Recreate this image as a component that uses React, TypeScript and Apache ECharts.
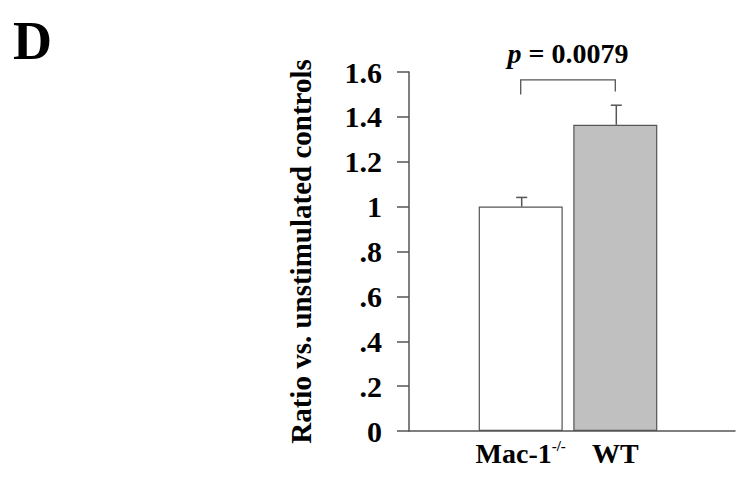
import React, { useEffect, useRef } from "react";
import * as echarts from "echarts";

const categories = ["Mac-1", "WT"];
const means = [1.0, 1.365];
const errorTops = [1.041, 1.452];
const barColors = ["#ffffff", "#c0c0c0"];
const bracket = { from: 0, to: 1, y: 1.565, legBottom: 1.5, label: "0.0079" };
const yMin = 0;
const yMax = 1.6;
const yInterval = 0.2;

const SERIF = "'Liberation Serif', 'Times New Roman', 'DejaVu Serif', serif";
const LINE = "#555555";

export default function App() {
  const ref = useRef<HTMLDivElement>(null);
  useEffect(() => {
    if (!ref.current) return;
    const chart = echarts.init(ref.current, null, { renderer: "svg" });
    const fmt = (v: number) => {
      if (v === 0) return "0";
      if (Math.abs(v - 1) < 1e-9) return "1";
      if (v < 1) return v.toFixed(1).slice(1);
      return v.toFixed(1);
    };
    chart.setOption({
      animation: false,
      backgroundColor: "#ffffff",
      graphic: [
        {
          type: "text",
          left: 5,
          top: 6,
          style: { text: "D", font: `bold 54px ${SERIF}`, fill: "#000" },
        },
      ],
      grid: [
        { left: 401, right: 23, top: 64, bottom: 60 },
        { left: 465.4, width: 189.2, top: 64, bottom: 60 },
      ],
      xAxis: [
        {
          gridIndex: 0,
          type: "value",
          min: 0,
          max: 1,
          axisLine: { show: true, lineStyle: { color: LINE, width: 1.5 } },
          axisTick: { show: false },
          axisLabel: { show: false },
          splitLine: { show: false },
        },
        {
          gridIndex: 1,
          type: "category",
          data: categories,
          axisLine: { show: false },
          axisTick: { show: false },
          axisLabel: {
            interval: 0,
            margin: 7,
            formatter: (v: string) => (v === "Mac-1" ? "{a|Mac-1}{s|-/-}" : "{a|" + v + "}"),
            rich: {
              a: { fontFamily: SERIF, fontWeight: "bold", fontSize: 28, color: "#000", lineHeight: 30 },
              s: { fontFamily: SERIF, fontWeight: "bold", fontSize: 15, color: "#000", verticalAlign: "top", lineHeight: 30, padding: [0, 0, 12, 0] },
            },
          },
        },
      ],
      yAxis: [
        {
          gridIndex: 0,
          type: "value",
          min: yMin,
          max: yMax,
          interval: yInterval,
          name: "Ratio vs. unstimulated controls",
          nameLocation: "middle",
          nameRotate: 90,
          nameGap: 94,
          nameTextStyle: { fontFamily: SERIF, fontWeight: "bold", fontSize: 29, color: "#000" },
          axisLine: { show: true, lineStyle: { color: LINE, width: 1.5 } },
          axisTick: { show: true, length: 12, lineStyle: { color: LINE, width: 1.5 } },
          axisLabel: {
            margin: 27,
            formatter: fmt,
            fontFamily: SERIF,
            fontWeight: "bold",
            fontSize: 30,
            color: "#000",
          },
          splitLine: { show: false },
        },
        {
          gridIndex: 1,
          type: "value",
          min: yMin,
          max: yMax,
          interval: yInterval,
          show: false,
          splitLine: { show: false },
        },
      ],
      series: [
        {
          type: "bar",
          xAxisIndex: 1,
          yAxisIndex: 1,
          barWidth: 84,
          data: means.map((v, i) => ({
            value: v,
            itemStyle: { color: barColors[i], borderColor: LINE, borderWidth: 1.2 },
          })),
          z: 3,
        },
        {
          type: "custom",
          xAxisIndex: 1,
          yAxisIndex: 1,
          data: means.map((m, i) => [i, m, errorTops[i]]),
          renderItem: (params: any, api: any) => {
            const base = api.coord([api.value(0), api.value(1)]);
            const top = api.coord([api.value(0), api.value(2)]);
            const hw = 5.5;
            return {
              type: "group",
              children: [
                { type: "line", shape: { x1: base[0] + 1, y1: base[1], x2: top[0] + 1, y2: top[1] }, style: { stroke: LINE, lineWidth: 1.5 } },
                { type: "line", shape: { x1: top[0] + 1 - hw, y1: top[1], x2: top[0] + 1 + hw, y2: top[1] }, style: { stroke: LINE, lineWidth: 1.5 } },
              ],
            };
          },
          z: 4,
        },
        {
          type: "custom",
          xAxisIndex: 1,
          yAxisIndex: 1,
          data: [[bracket.from, bracket.y, bracket.to, bracket.legBottom]],
          encode: { x: 0, y: 1 },
          renderItem: (params: any, api: any) => {
            const l = api.coord([api.value(0), api.value(1)]);
            const r = api.coord([api.value(2), api.value(1)]);
            const lb = api.coord([api.value(0), api.value(3)]);
            const rb = api.coord([api.value(2), api.value(3)]);
            return {
              type: "group",
              children: [
                {
                  type: "polyline",
                  shape: { points: [[lb[0], lb[1]], [l[0], l[1]], [r[0], r[1]], [rb[0], rb[1] - 3]] },
                  style: { stroke: LINE, lineWidth: 1.3, fill: "none" },
                },
                {
                  type: "text",
                  style: {
                    x: (l[0] + r[0]) / 2,
                    y: l[1] - 26,
                    text: "{i|p}{b| = " + bracket.label + "}",
                    align: "center",
                    verticalAlign: "middle",
                    rich: {
                      i: { fontFamily: SERIF, fontStyle: "italic", fontWeight: "bold", fontSize: 28, fill: "#000" },
                      b: { fontFamily: SERIF, fontWeight: "bold", fontSize: 28, fill: "#000" },
                    },
                  },
                },
              ],
            };
          },
          z: 5,
        },
      ],
    });
    return () => chart.dispose();
  }, []);
  return <div ref={ref} style={{ width: 750, height: 483 }} />;
}
